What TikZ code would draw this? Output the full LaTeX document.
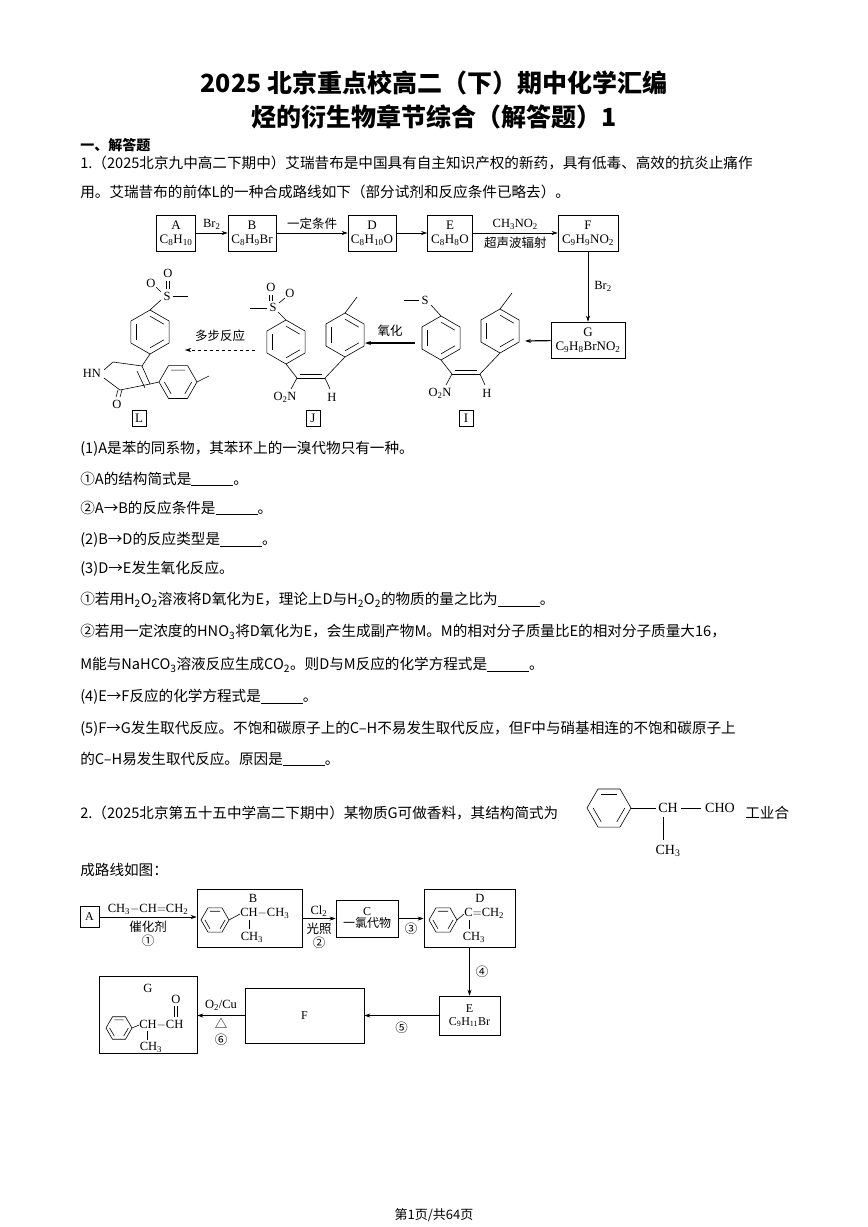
\documentclass[tikz,border=0pt]{standalone}
\usepackage{fontspec}
\setmainfont{Liberation Serif}
\newfontfamily\cjk{Noto Sans CJK SC}
\usetikzlibrary{arrows.meta}
\newcommand\xs[1]{\textsubscript{#1}}
\newcommand\blank{\underline{\hspace{42pt}}}
\newcommand\hexr[4]{% cx cy r rot
 \draw[shift={(#1,#2)},rotate=#4] (30:#3)--(90:#3)--(150:#3)--(210:#3)--(270:#3)--(330:#3)--cycle;
 \foreach \aa in {30,150,270}{\draw[shift={(#1,#2)},rotate=#4] (\aa:{0.72*#3})--(\aa+60:{0.72*#3});}}
\tikzset{
 box/.style={draw,line width=0.6pt,align=center,inner sep=1pt,font=\fontsize{13}{14}\selectfont},
 lab/.style={inner sep=0,font=\fontsize{12.5}{13}\selectfont},
 clab/.style={inner sep=0,font=\cjk\fontsize{12.5}{13}\selectfont},
 arr/.style={-{Stealth[length=6pt,width=4pt]},line width=0.6pt},
 tl/.style={anchor=west,inner sep=0,font=\cjk\fontsize{14.6}{16}\selectfont},
 lbox/.style={draw,inner sep=2pt,minimum width=14pt,minimum height=16pt,font=\fontsize{13}{14}\selectfont}
}
\begin{document}
\begin{tikzpicture}[x=1pt,y=-1pt,line width=0.6pt]
\useasboundingbox[fill=white] (0,0) rectangle (868,1227);
% title
\node[font=\cjk\bfseries\fontsize{25}{28}\selectfont] (t1) at (434,83) {2025 北京重点校高二（下）期中化学汇编};
\node[font=\cjk\bfseries\fontsize{25}{28}\selectfont] (t2) at (434,117) {烃的衍生物章节综合（解答题）1};
\node[tl,font=\cjk\bfseries\fontsize{14}{16}\selectfont] (h1) at (80,145) {一、解答题};
\node[tl] (q1a) at (80,163) {1.（2025北京九中高二下期中）艾瑞昔布是中国具有自主知识产权的新药，具有低毒、高效的抗炎止痛作};
\node[tl] (q1b) at (80,192) {用。艾瑞昔布的前体L的一种合成路线如下（部分试剂和反应条件已略去）。};
% scheme 1
\node[box,minimum width=39pt,minimum height=36pt] (A) at (176,233) {A\\C\xs8H\xs{10}};
\node[box,minimum width=48pt,minimum height=36pt] (B) at (252,233) {B\\C\xs8H\xs9Br};
\node[box,minimum width=48pt,minimum height=36pt] (D) at (372,233) {D\\C\xs8H\xs{10}O};
\node[box,minimum width=45pt,minimum height=36pt] (E) at (450,233) {E\\C\xs8H\xs8O};
\node[box,minimum width=60pt,minimum height=36pt] (F) at (588,233) {F\\C\xs9H\xs9NO\xs2};
\node[box,minimum width=74pt,minimum height=36pt] (G) at (588,340) {G\\C\xs9H\xs8BrNO\xs2};
\draw[arr] (A) -- node[lab,above=3pt]{Br\xs2} (B);
\draw[arr] (B) -- node[clab,above=3pt]{一定条件} (D);
\draw[arr] (D) -- (E);
\draw[arr] (E) -- node[lab,above=3pt]{CH\xs3NO\xs2} node[clab,below=4pt]{超声波辐射} (F);
\draw[arr] (F) -- node[lab,right=6pt]{Br\xs2} (G);
\coordinate (iR) at (525,341);
\draw[arr,line width=1.2pt] (G) -- (iR);
% I and J skeletons
\foreach \dx/\dy in {0/0,-155/4}{
 \begin{scope}[shift={(\dx,\dy)}]
 \hexr{441}{338}{22}{0}
 \hexr{500}{331}{22}{0}
 \draw (441,360)--(452,374);
 \draw (452,374)--(480,374);
 \draw (455,370)--(477,370);
 \draw (480,374)--(500,353);
 \draw (452,374)--(446,385);
 \draw (480,374)--(485,385);
 \draw (500,309)--(512,293);
 \node[lab] at (440,393) {O\xs2N};
 \node[lab] at (487,393) {H};
 \end{scope}}
% I thioether
\draw (441,316)--(431,305);
\node[lab] (Si) at (425,300) {S};
\draw (404,300)--(419,300);
\node[lbox] (Ib) at (466,418) {I};
% J sulfone
\draw (286,320)--(278,312);
\node[lab] (Sj) at (273,307) {S};
\draw (250,308)--(267,308);
\node[lab] (Oj1) at (271,287) {O};
\draw (269.5,295)--(269.5,301); \draw (272.5,295)--(272.5,301);
\node[lab] (Oj2) at (290,293) {O};
\draw (279,303)--(285,298);
\node[lbox] (Jb) at (313,418) {J};
\coordinate (ox1) at (415,343); \coordinate (ox2) at (365,343);
\draw[arr,line width=1.2pt] (ox1) -- node[clab,above=6pt]{氧化} (ox2);
\coordinate (ms1) at (255,350); \coordinate (ms2) at (185,350);
\draw[arr,dashed] (ms1) -- node[clab,above=8pt]{多步反应} (ms2);
% L
\hexr{150}{332}{22}{0}
\draw (150,310)--(161,300);
\node[lab] (Sl) at (167,296) {S};
\draw (173,296)--(188,296);
\node[lab] (Ol1) at (168,273) {O};
\draw (166.5,281)--(166.5,289); \draw (169.5,281)--(169.5,289);
\node[lab] (Ol2) at (151,283) {O};
\draw (156,287)--(161,292);
\draw (150,354)--(142,366);
\draw (113,362)--(142,366);
\draw (142,366)--(150,384); \draw (137,371)--(145,388);
\draw (150,384)--(120,390);
\draw (120,390)--(104,378);
\draw (104,370)--(113,362);
\node[lab] (HN) at (92,373) {HN};
\draw (118,390)--(116,397); \draw (122,390)--(120,397);
\node[lab] (Ol) at (117,404) {O};
\draw (150,384)--(159,382);
\hexr{178}{382}{19}{30}
\draw (197,382)--(209,376);
\node[lbox] (Lb) at (139,418) {L};
% questions
\node[tl] (l1) at (80,449) {(1)A是苯的同系物，其苯环上的一溴代物只有一种。};
\node[tl] (l2) at (80,479) {①A的结构简式是\blank。};
\node[tl] (l3) at (80,508) {②A→B的反应条件是\blank。};
\node[tl] (l4) at (80,540) {(2)B→D的反应类型是\blank。};
\node[tl] (l5) at (80,569) {(3)D→E发生氧化反应。};
\node[tl] (l6) at (80,600) {①若用H\xs2O\xs2溶液将D氧化为E，理论上D与H\xs2O\xs2的物质的量之比为\blank。};
\node[tl] (l7) at (80,632) {②若用一定浓度的HNO\xs3将D氧化为E，会生成副产物M。M的相对分子质量比E的相对分子质量大16，};
\node[tl] (l8) at (80,665) {M能与NaHCO\xs3溶液反应生成CO\xs2。则D与M反应的化学方程式是\blank。};
\node[tl] (l9) at (80,697) {(4)E→F反应的化学方程式是\blank。};
\node[tl] (l10) at (80,729) {(5)F→G发生取代反应。不饱和碳原子上的C–H不易发生取代反应，但F中与硝基相连的不饱和碳原子上};
\node[tl] (l11) at (80,759) {的C–H易发生取代反应。原因是\blank。};
% question 2
\node[tl] (q2a) at (80,813) {2.（2025北京第五十五中学高二下期中）某物质G可做香料，其结构简式为};
\node[tl] (q2b) at (745,813) {工业合};
\hexr{609}{808}{22}{30}
\draw (631,808)--(656,808);
\node[lab,font=\fontsize{14}{15}\selectfont] (ch) at (668,808) {CH};
\draw (681,808)--(701,808);
\node[lab,font=\fontsize{14}{15}\selectfont] (cho) at (720,808) {CHO};
\draw (663,817)--(663,840);
\node[lab,font=\fontsize{14}{15}\selectfont] (ch3) at (668,851) {CH\xs3};
\node[tl] (q2c) at (80,870) {成路线如图：};
% scheme 2
\node[box,minimum width=19pt,minimum height=21pt,font=\fontsize{12}{13}\selectfont] (A2) at (89.5,917) {A};
\node[box,minimum width=105pt,minimum height=58pt] (B2) at (249.5,918) {};
\node[box,minimum width=62pt,minimum height=37pt,font=\fontsize{12}{13}\selectfont] (C2) at (367,918.5) {C\\[-1pt]{\cjk 一氯代物}};
\node[box,minimum width=91pt,minimum height=58pt] (D2) at (469.5,918) {};
\node[box,minimum width=61pt,minimum height=39pt,font=\fontsize{12}{13}\selectfont] (E2) at (469.5,1015.5) {E\\C\xs9H\xs{11}Br};
\node[box,minimum width=119pt,minimum height=55pt,font=\fontsize{12}{13}\selectfont] (F2) at (304.5,1015.5) {F};
\node[box,minimum width=98pt,minimum height=77pt] (G2) at (148,1014.5) {};
\draw[arr] (A2.east) -- node[lab,above=2pt]{CH\xs3$-$CH$=$CH\xs2} node[clab,below=4pt]{催化剂} node[clab,below=18pt]{①} (A2.east-|B2.west);
\draw[arr] (B2.east|-C2.west) -- node[lab,above=2pt]{Cl\xs2} node[clab,below=4pt]{光照} node[clab,below=18pt]{②} (C2.west);
\draw[arr] (C2.east) -- node[clab,below=4pt]{③} (C2.east-|D2.west);
\draw[arr] (D2.south) -- node[clab,right=6pt]{④} (E2.north);
\draw[arr] (E2.west) -- node[clab,below=6pt]{⑤} (F2.east);
\draw[arr] (F2.west) -- node[lab,above=5pt]{O\xs2/Cu} node[clab,below=2pt]{△} node[clab,below=18pt]{⑥} (F2.west-|G2.east);
% B contents
\hexr{215}{920}{14}{30}
\node[lab] (Bl) at (253,898) {B};
\draw (229,920)--(240,914);
\node[lab,anchor=west] (Bt) at (240,913) {CH$-$CH\xs3};
\draw (249,920)--(249,929);
\node[lab] (Bm) at (252,937) {CH\xs3};
% D contents
\hexr{443}{920}{14}{30}
\node[lab] (Dl) at (480,898) {D};
\draw (457,920)--(464,914);
\node[lab,anchor=west] (Dt) at (464,913) {C$=$CH\xs2};
\draw (469,920)--(469,929);
\node[lab] (Dm) at (474,937) {CH\xs3};
% G contents
\node[lab] (Gl) at (148,988) {G};
\hexr{119}{1028}{13}{30}
\draw (132,1028)--(139,1025);
\node[lab,anchor=west] (Gt) at (139,1025) {CH$-$CH};
\draw (174,1006)--(174,1017); \draw (177.5,1006)--(177.5,1017);
\node[lab] (Go) at (176,999) {O};
\draw (147,1031)--(147,1040);
\node[lab] (Gm) at (151,1047) {CH\xs3};
% footer
\node[font=\cjk\fontsize{13}{15}\selectfont] (ft) at (434,1215) {第1页/共64页};
\end{tikzpicture}
\end{document}
